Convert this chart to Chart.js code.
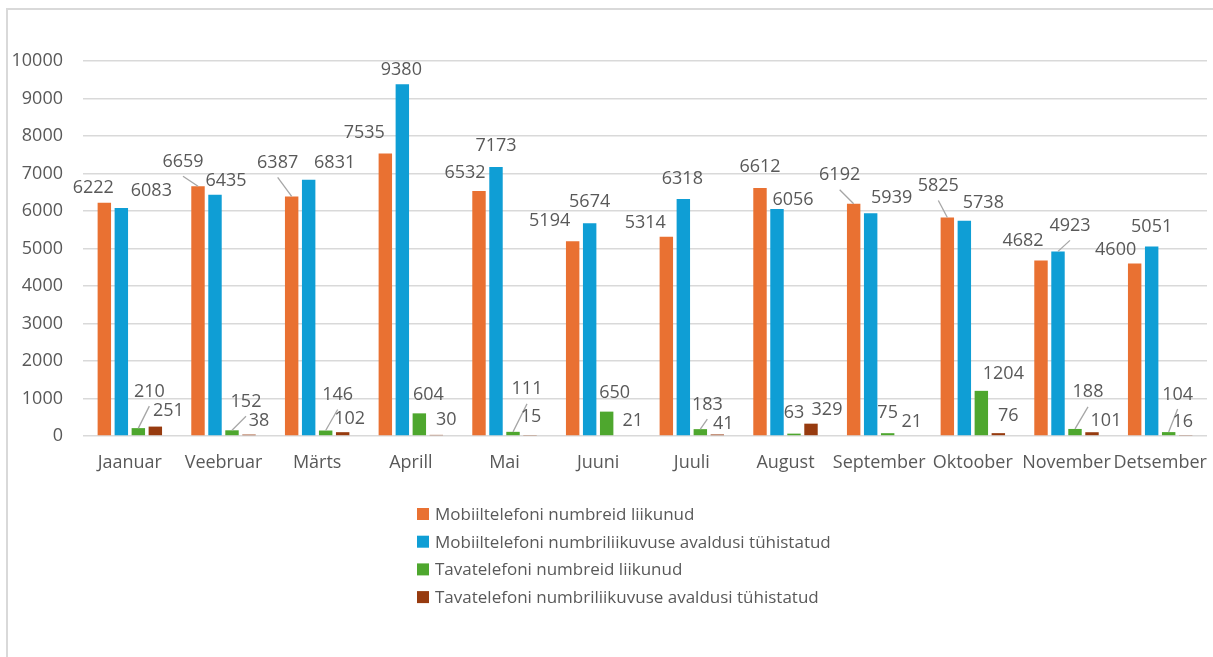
<!DOCTYPE html>
<html lang="et">
<head>
  <meta charset="UTF-8" />
  <title>Numbriliikuvus kuude lõikes</title>
  <script src="https://cdn.jsdelivr.net/npm/chart.js"></script>
  <style>
    body { margin: 0; background: #fff; }
    #wrap { position: relative; width: 1213px; height: 657px; overflow: hidden; }
    #frame {
      position: absolute; left: 6px; top: 8px; width: 1400px; height: 800px;
      border: 2px solid #d9d9d9; pointer-events: none;
    }
    #chart { position: absolute; left: 0; top: 0; }
  </style>
</head>
<body>
  <div id="wrap">
    <div id="frame"></div>
    <canvas id="chart" width="1213" height="657"></canvas>
  </div>

  <script>
    // Kuud ja seeriad
    const months = ['Jaanuar', 'Veebruar', 'Märts', 'Aprill', 'Mai', 'Juuni', 'Juuli', 'August', 'September', 'Oktoober', 'November', 'Detsember'];
    const seriesNames = [
      'Mobiiltelefoni numbreid liikunud',
      'Mobiiltelefoni numbriliikuvuse avaldusi tühistatud',
      'Tavatelefoni numbreid liikunud',
      'Tavatelefoni numbriliikuvuse avaldusi tühistatud'
    ];
    const mobileMoved     = [6222, 6659, 6387, 7535, 6532, 5194, 5314, 6612, 6192, 5825, 4682, 4600];
    const mobileCancelled = [6083, 6435, 6831, 9380, 7173, 5674, 6318, 6056, 5939, 5738, 4923, 5051];
    const fixedMoved      = [210, 152, 146, 604, 111, 650, 183, 63, 75, 1204, 188, 104];
    const fixedCancelled  = [251, 38, 102, 30, 15, 21, 41, 329, 21, 76, 101, 16];
    const yTickValues = [0, 1000, 2000, 3000, 4000, 5000, 6000, 7000, 8000, 9000, 10000];

    const colors = ['#e97132', '#0f9ed5', '#4ea72e', '#973b0f'];

    // sildi nihe tulba ülaservast [dx, dy] ja kas tõmmata juhtjoon
    const nudges = [
      [[-11,-16],[-15,-26],[-14,-35],[-21,-22],[-14,-20],[-23,-22],[-21,-15],[0,-23],[-14,-30],[-9,-33],[-18,-21],[-19,-15]],
      [[30,-18],[11,-15],[26,-18],[-1,-16],[0,-23],[0,-23],[-1,-22],[16,-10],[21,-17],[19,-19],[12,-27],[0,-21]],
      [[11,-38],[14,-30],[12,-37],[9,-20],[14,-44],[8,-20],[7,-26],[0,-22],[0,-22],[22,-18],[13,-38],[9,-39]],
      [[13,-17],[10,-15],[7,-15],[10,-16],[1,-20],[9,-16],[6,-12],[16,-15],[7,-15],[10,-19],[14,-13],[-3,-15]]
    ];
    const leaders = [
      [1, 2, 8, 9],
      [10],
      [0, 1, 2, 4, 6, 10, 11],
      []
    ];

    const textColor = '#595959';
    const fontFamily = "'Open Sans', sans-serif";

    const valueLabels = {
      id: 'valueLabels',
      afterDatasetsDraw(chart) {
        const ctx = chart.ctx;
        ctx.save();
        ctx.font = `18px ${fontFamily}`;
        ctx.textAlign = 'center';
        ctx.textBaseline = 'alphabetic';
        chart.data.datasets.forEach((ds, di) => {
          chart.getDatasetMeta(di).data.forEach((bar, i) => {
            const [dx, dy] = nudges[di][i];
            const cx = bar.x + dx;
            const cy = bar.y + dy;
            if (leaders[di].includes(i)) {
              ctx.strokeStyle = '#a6a6a6';
              ctx.lineWidth = 1.3;
              ctx.beginPath();
              ctx.moveTo(bar.x, bar.y);
              ctx.lineTo(cx, cy + 16);
              ctx.stroke();
            }
            ctx.fillStyle = textColor;
            ctx.fillText(String(ds.data[i]), cx, cy + 6.5);
          });
        });
        ctx.restore();
      }
    };

    // legend tulpadena allpool
    const columnLegend = {
      id: 'columnLegend',
      afterDraw(chart) {
        const ctx = chart.ctx;
        ctx.save();
        ctx.font = `17px ${fontFamily}`;
        ctx.textBaseline = 'middle';
        const left = 417, top = 514, step = 27.7, box = 12;
        chart.data.datasets.forEach((ds, i) => {
          const y = top + i * step;
          ctx.fillStyle = ds.backgroundColor;
          ctx.fillRect(left, y - box / 2, box, box);
          ctx.fillStyle = textColor;
          ctx.fillText(ds.label, left + 18, y + 1);
        });
        ctx.restore();
      }
    };

    const seriesData = [mobileMoved, mobileCancelled, fixedMoved, fixedCancelled];

    new Chart(document.getElementById('chart'), {
      type: 'bar',
      data: {
        labels: months,
        datasets: seriesData.map((d, i) => ({
          label: seriesNames[i],
          data: d,
          backgroundColor: colors[i],
          borderWidth: 0,
          categoryPercentage: 0.726,
          barPercentage: 0.79
        }))
      },
      options: {
        responsive: false,
        animation: false,
        layout: { padding: { left: 0, right: 6, top: 61, bottom: 181 } },
        plugins: {
          legend: { display: false },
          tooltip: { enabled: false }
        },
        scales: {
          x: {
            grid: { display: false, drawTicks: false },
            border: { display: false },
            ticks: {
              color: textColor, font: { family: fontFamily, size: 18 },
              padding: 16, maxRotation: 0, minRotation: 0, autoSkip: false
            },
            afterFit: s => { s.height = 40; s.paddingLeft = 0; s.paddingRight = 0; }
          },
          y: {
            min: 0,
            max: 10000,
            afterBuildTicks: s => { s.ticks = yTickValues.map(v => ({ value: v })); },
            grid: { color: '#d9d9d9', lineWidth: 1.6, drawTicks: false },
            border: { display: false },
            ticks: {
              color: textColor, font: { family: fontFamily, size: 18 }, padding: 20,
              callback: v => String(v)
            },
            afterFit: s => { s.width = 83; s.paddingTop = 0; s.paddingBottom = 0; }
          }
        }
      },
      plugins: [valueLabels, columnLegend]
    });
  </script>
</body>
</html>
